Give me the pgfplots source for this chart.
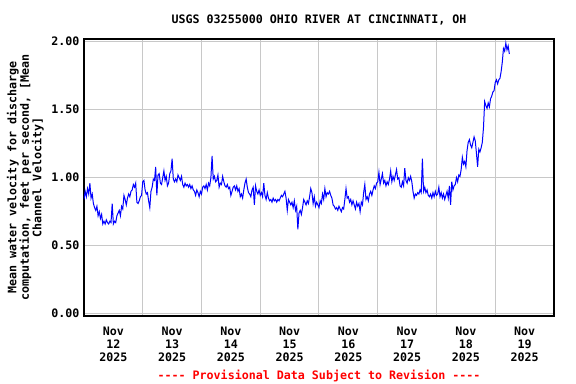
\documentclass[border=0pt]{standalone}
\usepackage{fontspec}
\setmainfont{DejaVu Sans Mono}[Ligatures=TeXOff]
\usepackage{pgfplots}
\usepackage{pgfplotstable}
\pgfplotsset{compat=1.18}
\definecolor{gridgray}{RGB}{200,200,200}
\definecolor{usgsblue}{RGB}{0,0,255}
\definecolor{usgsred}{RGB}{255,0,0}
% velocity, one reading every 0.02 day from Nov 12 00:00
\pgfplotstableread[row sep=\\]{
v\\
0.84\\0.90\\0.86\\0.92\\0.88\\0.96\\0.85\\0.88\\0.81\\0.78\\
0.76\\0.79\\0.72\\0.75\\0.70\\0.73\\0.66\\0.68\\0.66\\0.69\\
0.67\\0.66\\0.68\\0.67\\0.81\\0.66\\0.68\\0.67\\0.72\\0.74\\
0.76\\0.72\\0.79\\0.77\\0.87\\0.84\\0.80\\0.85\\0.88\\0.86\\
0.90\\0.91\\0.95\\0.93\\0.96\\0.82\\0.81\\0.83\\0.86\\0.87\\
0.97\\0.98\\0.91\\0.88\\0.89\\0.83\\0.78\\0.90\\0.93\\0.99\\
0.98\\1.08\\0.87\\1.02\\1.03\\0.96\\0.95\\1.00\\1.05\\0.98\\
1.01\\0.94\\0.96\\1.03\\1.05\\1.14\\0.99\\0.97\\0.99\\0.97\\
1.02\\1.00\\0.98\\1.01\\0.95\\0.93\\0.96\\0.94\\0.95\\0.93\\
0.95\\0.92\\0.94\\0.91\\0.90\\0.87\\0.91\\0.89\\0.86\\0.90\\
0.88\\0.93\\0.94\\0.92\\0.95\\0.91\\0.96\\0.94\\1.00\\1.16\\
0.99\\1.01\\0.97\\0.98\\1.02\\0.93\\0.96\\0.95\\1.01\\0.97\\
0.94\\0.93\\0.95\\0.92\\0.93\\0.87\\0.90\\0.93\\0.94\\0.91\\
0.94\\0.90\\0.92\\0.86\\0.88\\0.85\\0.91\\0.96\\0.99\\0.93\\
0.89\\0.88\\0.86\\0.91\\0.93\\0.80\\0.94\\0.90\\0.88\\0.91\\
0.87\\0.89\\0.86\\0.96\\0.87\\0.84\\0.89\\0.85\\0.83\\0.84\\
0.82\\0.85\\0.83\\0.84\\0.82\\0.84\\0.83\\0.85\\0.87\\0.86\\
0.88\\0.90\\0.85\\0.76\\0.84\\0.82\\0.80\\0.82\\0.78\\0.83\\
0.76\\0.79\\0.62\\0.74\\0.76\\0.73\\0.78\\0.84\\0.82\\0.80\\
0.83\\0.81\\0.86\\0.92\\0.89\\0.81\\0.86\\0.79\\0.82\\0.80\\
0.78\\0.83\\0.81\\0.88\\0.84\\0.92\\0.86\\0.89\\0.88\\0.90\\
0.87\\0.85\\0.80\\0.79\\0.77\\0.78\\0.76\\0.79\\0.77\\0.75\\
0.78\\0.77\\0.84\\0.92\\0.85\\0.86\\0.82\\0.84\\0.80\\0.83\\
0.80\\0.77\\0.82\\0.79\\0.81\\0.75\\0.82\\0.80\\0.89\\0.95\\
0.84\\0.86\\0.83\\0.88\\0.90\\0.87\\0.91\\0.94\\0.92\\0.96\\
0.97\\1.04\\0.95\\0.99\\1.03\\0.96\\0.98\\0.94\\0.97\\0.95\\
0.99\\1.05\\0.97\\1.01\\0.98\\1.02\\1.06\\0.99\\1.00\\0.94\\
0.93\\0.97\\0.94\\1.07\\0.98\\0.96\\1.00\\0.98\\1.01\\0.97\\
0.90\\0.85\\0.88\\0.87\\0.89\\0.88\\0.91\\0.89\\1.14\\0.90\\
0.93\\0.89\\0.91\\0.87\\0.86\\0.88\\0.85\\0.89\\0.86\\0.90\\
0.87\\0.88\\0.93\\0.86\\0.89\\0.85\\0.88\\0.84\\0.87\\0.90\\
0.85\\0.94\\0.80\\0.97\\0.91\\0.94\\0.95\\1.00\\0.97\\1.02\\
1.01\\1.06\\1.15\\1.10\\1.12\\1.08\\1.20\\1.26\\1.28\\1.24\\
1.22\\1.26\\1.30\\1.27\\1.18\\1.08\\1.21\\1.19\\1.22\\1.26\\
1.37\\1.56\\1.53\\1.51\\1.55\\1.52\\1.58\\1.60\\1.63\\1.64\\
1.70\\1.72\\1.69\\1.72\\1.73\\1.78\\1.85\\1.95\\1.93\\1.99\\
1.94\\1.97\\1.91\\
}\vel
\begin{document}
\begin{tikzpicture}
\path[use as bounding box] (-84bp,-68bp) rectangle (492bp,316bp);
\begin{axis}[
  at={(0,0)}, anchor=south west,
  scale only axis, width=470bp, height=277bp,
  xmin=0, xmax=8, ymin=-0.017, ymax=2.02,
  font=\bfseries\fontsize{11.7}{13.5}\selectfont,
  axis line style={black, line width=1.2bp},
  xtick={0.5,1.5,...,7.5},
  xticklabels={{Nov\\12\\2025},{Nov\\13\\2025},{Nov\\14\\2025},{Nov\\15\\2025},{Nov\\16\\2025},{Nov\\17\\2025},{Nov\\18\\2025},{Nov\\19\\2025}},
  xticklabel style={align=center, anchor=north, yshift=-7bp},
  minor xtick={1,2,...,7},
  xminorgrids=true, xmajorgrids=false,
  ytick={0,0.5,1,1.5,2},
  yticklabels={0.00,0.50,1.00,1.50,2.00},
  yticklabel style={anchor=east, xshift=-1bp},
  ymajorgrids=true,
  major tick length=0pt, minor tick length=0pt,
  grid style={gridgray, line width=1bp},
  minor grid style={gridgray, line width=1bp},
  title={USGS 03255000 OHIO RIVER AT CINCINNATI, OH},
  title style={at={(0.5,1)}, anchor=base, yshift=10bp},
  ylabel={Mean water velocity for discharge\\computation, feet per second, [Mean\\Channel Velocity]},
  ylabel style={at={(axis description cs:-0.078,0.5)}, anchor=south, align=center, font=\bfseries\fontsize{11.7}{12.6}\selectfont},
]
\addplot[usgsblue, line width=1bp, sharp plot] table[x expr=\coordindex*0.02, y=v]{\vel};
\end{axis}
\node[text=usgsred, font=\bfseries\fontsize{11.7}{13.5}\selectfont, anchor=base] at (235bp,-63bp) {---- Provisional Data Subject to Revision ----};
\end{tikzpicture}
\end{document}
